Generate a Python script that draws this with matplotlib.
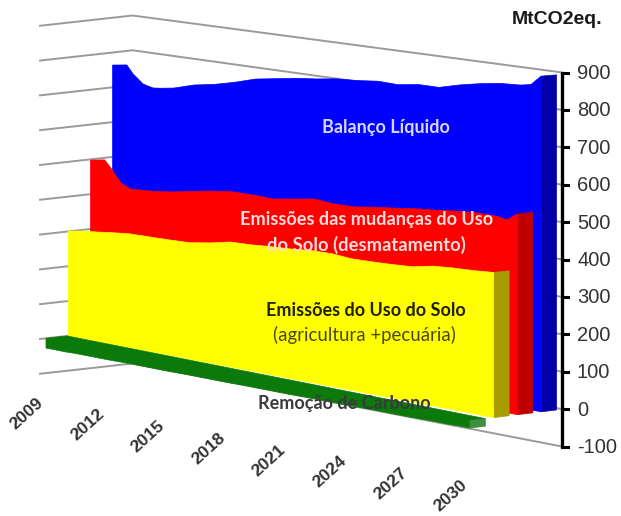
import matplotlib
matplotlib.use('Agg')
import matplotlib.pyplot as plt
from matplotlib.patches import Polygon

# Net balance and its components, MtCO2eq per year
years = [2009, 2009.7, 2010, 2010.5, 2011, 2012, 2013, 2014, 2015, 2016, 2017, 2018,
         2019, 2020, 2021, 2022, 2023, 2024, 2025, 2026, 2027, 2028, 2029, 2029.5, 2030]
balanco = [764, 770, 747, 722, 714, 723, 740, 750, 764, 781, 790, 799,
           805, 813, 816, 822, 820, 828, 828, 842, 853, 861, 864, 869, 895]
mudancas = [498, 505, 485, 446, 433, 437, 444, 455, 465, 472, 472, 470,
            479, 488, 483, 484, 492, 498, 505, 510, 516, 520, 519, 514, 534]
uso_solo = [301, 308, 310, 313, 317, 323, 324, 325, 327, 336, 348, 350,
            354, 357, 362, 363, 358, 359, 361, 364, 375, 379, 381, 383, 385]
remocao = [-28, -28, -28, -27, -27, -27, -26, -26, -26, -25, -25, -25,
           -24, -24, -24, -23, -23, -23, -22, -22, -22, -21, -21, -20, -20]

year_ticks = [2009, 2012, 2015, 2018, 2021, 2024, 2027, 2030]
value_ticks = [-100, 0, 100, 200, 300, 400, 500, 600, 700, 800, 900]

WALL = 3.9  # depth of the back wall, in series rows
SIDE_WALL = -0.27  # depth of the free end of the left wall
SIDE = 0.65  # thickness of one series


def project(year, row, value):
    # oblique view with a bit of perspective, returns pixel coordinates
    t = (year - 2009) / 21
    x = (1 - t) * (46 + 22.2 * row) + t * (470 + 23.7 * row)
    y0 = (1 - t) * (338.3 - 2.46 * row) + t * (420.5 - 2.9 * row)
    k = (1 - t) * 0.348 + t * (0.378 - 0.001 * row)
    return x, y0 - k * value


def draw_area(ax, values, row, front, side):
    top = [project(y, row, v) for y, v in zip(years, values)]
    base = [project(2030, row, 0), project(2009, row, 0)]
    end = [project(2030, row, 0), project(2030, row, values[-1]),
           project(2030, row + SIDE, values[-1]), project(2030, row + SIDE, 0)]
    ax.add_patch(Polygon(end, closed=True, fc=side, ec=side, lw=0.5, zorder=2))
    ax.add_patch(Polygon(top + base, closed=True, fc=front, ec=front, lw=0.5, zorder=2))


fig = plt.figure(figsize=(6.21, 5.16), dpi=100)
ax = fig.add_axes([0, 0, 1, 1])
ax.set_xlim(0, 621)
ax.set_ylim(516, 0)
ax.axis('off')

# Walls
for v in value_ticks:
    xs, ys = zip(project(2009, SIDE_WALL, v), project(2009, WALL, v), project(2030, WALL, v))
    ax.plot(xs, ys, color='#9a9a9a', lw=1.4, solid_joinstyle='round', zorder=1)

# Series, back to front
draw_area(ax, balanco, 3, '#0000FF', '#0000A6')
draw_area(ax, mudancas, 2, '#FF0000', '#C00000')
draw_area(ax, uso_solo, 1, '#FFFF00', '#A89C00')

# Carbon removal strip along the floor
strip = [project(y, 0, v) for y, v in zip(years, remocao)]
strip += [project(2030, 0.65, remocao[-1] + 20), project(2009, 0.95, 0), project(2009, 0, 0)]
ax.add_patch(Polygon(strip, closed=True, fc='#0B7A0B', ec='#0B7A0B', lw=0.5, zorder=3))
strip_end = [project(2030, 0, remocao[-1]), project(2030, 0, 0),
             project(2030, 0.65, 0), project(2030, 0.65, remocao[-1])]
ax.add_patch(Polygon(strip_end, closed=True, fc='#3F8F3F', ec='#3F8F3F', lw=0.5, zorder=3))

# Value axis on the right
xa, y_low = project(2030, WALL, -100)
_, y_high = project(2030, WALL, 900)
ax.plot([xa, xa], [y_low, y_high], color='black', lw=2.4, solid_capstyle='round', zorder=4)
for v in value_ticks:
    _, yt = project(2030, WALL, v)
    ax.plot([xa, xa + 6], [yt, yt], color='black', lw=2.2, zorder=4)
    ax.text(577, yt + 1, str(v), family='Liberation Sans', fontsize=14.5,
            color='#333333', ha='left', va='center', zorder=5)

ax.text(557, 20, 'MtCO2eq.', family='Liberation Sans', fontsize=14, weight='bold',
        color='#1a1a1a', ha='center', va='center', zorder=5)

# Year labels under the front edge
for yr in year_ticks:
    xl, yl = project(yr, 0, 0)
    ax.text(xl - 19, yl + 75, str(yr), family='Liberation Sans', fontsize=12.5, weight='bold',
            color='#333333', rotation=42, ha='center', va='center', rotation_mode='anchor', zorder=5)

# Series names
ax.text(386, 127, 'Balanço Líquido', family='Lato', fontsize=13, weight='bold',
        color='#D6D6FF', ha='center', va='center', zorder=5)
ax.text(367, 220, 'Emissões das mudanças do Uso', family='Lato', fontsize=13.1, weight='bold',
        color='#FFDCDC', ha='center', va='center', zorder=5)
ax.text(366, 245, 'do Solo (desmatamento)', family='Lato', fontsize=13.2, weight='bold',
        color='#FFDCDC', ha='center', va='center', zorder=5)
ax.text(366, 310, 'Emissões do Uso do Solo', family='Lato', fontsize=13, weight='bold',
        color='#202000', ha='center', va='center', zorder=5)
ax.text(364, 335, '(agricultura +pecuária)', family='Lato', fontsize=13.4,
        color='#4a4a10', ha='center', va='center', zorder=5)
ax.text(344, 403, 'Remoção de Carbono', family='Lato', fontsize=13, weight='bold',
        color='#3a3a3a', ha='center', va='center', zorder=5)

fig.savefig('out.png', dpi=100)
